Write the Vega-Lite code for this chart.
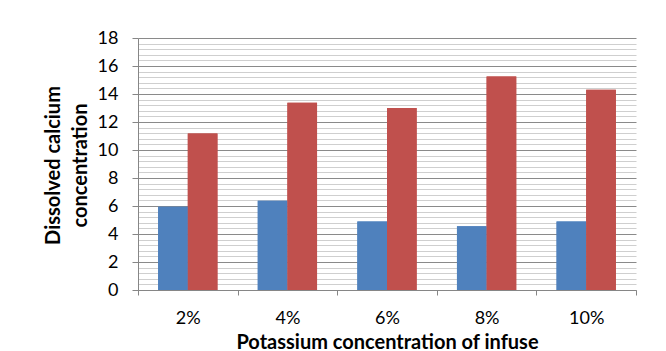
{
  "$schema": "https://vega.github.io/schema/vega-lite/v6.json",
  "width": 498,
  "height": 252,
  "autosize": "none",
  "padding": {"left": 138, "top": 38, "right": 30, "bottom": 61},
  "background": "white",
  "config": {
    "view": {"stroke": null},
    "font": "Lato",
    "axis": {"labelFont": "Lato", "titleFont": "Lato"},
    "axisX": {"title": "Potassium concentration of infuse", "labelAngle": 0, "labelFontSize": 18, "labelColor": "#000000",
              "labelPadding": 14, "tickBand": "extent", "tickSize": 5, "tickColor": "#868686",
              "domainColor": "#868686", "grid": false,
              "titleFontSize": 20, "titleFontWeight": "bold", "titleColor": "#000000",
              "titleX": 249, "titleY": 58, "titleAnchor": "middle", "titleAlign": "center", "titleBaseline": "alphabetic"}
  },
  "data": {
    "values": [
      {"potassium": "2%", "series": "Series1", "calcium": 5.95},
      {"potassium": "2%", "series": "Series2", "calcium": 11.17},
      {"potassium": "4%", "series": "Series1", "calcium": 6.37},
      {"potassium": "4%", "series": "Series2", "calcium": 13.38},
      {"potassium": "6%", "series": "Series1", "calcium": 4.9},
      {"potassium": "6%", "series": "Series2", "calcium": 13.0},
      {"potassium": "8%", "series": "Series1", "calcium": 4.55},
      {"potassium": "8%", "series": "Series2", "calcium": 15.25},
      {"potassium": "10%", "series": "Series1", "calcium": 4.9},
      {"potassium": "10%", "series": "Series2", "calcium": 14.3}
    ]
  },
  "resolve": {"axis": {"y": "independent"}, "scale": {"y": "shared"}},
  "layer": [
    {
      "mark": {"type": "bar"},
      "encoding": {
        "x": {"field": "potassium", "type": "nominal", "sort": ["2%", "4%", "6%", "8%", "10%"],
              "scale": {"paddingInner": 0, "paddingOuter": 0}, "title": "Potassium concentration of infuse"},
        "xOffset": {"field": "series", "type": "nominal", "scale": {"paddingInner": 0, "paddingOuter": 0.68}},
        "y": {"field": "calcium", "type": "quantitative", "scale": {"domain": [0, 18], "nice": false},
              "axis": {"orient": "right", "values": [0.4,0.8,1.2,1.6,2.4,2.8,3.2,3.6,4.4,4.8,5.2,5.6,6.4,6.8,7.2,7.6,8.4,8.8,9.2,9.6,10.4,10.8,11.2,11.6,12.4,12.8,13.2,13.6,14.4,14.8,15.2,15.6,16.4,16.8,17.2,17.6],
                       "grid": true, "gridColor": "#cfcfcf", "gridWidth": 1, "gridOpacity": 1,
                       "labels": false, "ticks": false, "domain": false, "title": null}},
        "color": {"field": "series", "type": "nominal", "scale": {"range": ["#4F81BD", "#C0504D"]}, "legend": null}
      }
    },
    {
      "mark": {"type": "bar"},
      "encoding": {
        "x": {"field": "potassium", "type": "nominal", "sort": ["2%", "4%", "6%", "8%", "10%"],
              "scale": {"paddingInner": 0, "paddingOuter": 0}, "title": "Potassium concentration of infuse"},
        "xOffset": {"field": "series", "type": "nominal", "scale": {"paddingInner": 0, "paddingOuter": 0.68}},
        "y": {"field": "calcium", "type": "quantitative", "scale": {"domain": [0, 18], "nice": false},
              "axis": {"orient": "left", "values": [0, 2, 4, 6, 8, 10, 12, 14, 16, 18],
                       "grid": true, "gridColor": "#8a8a8a", "gridWidth": 1, "gridOpacity": 1,
                       "labelFontSize": 18, "labelColor": "#000000", "labelPadding": 14,
                       "tickSize": 6, "tickColor": "#868686", "domainColor": "#868686",
                       "title": ["Dissolved calcium", "concentration"], "titleFontSize": 20, "titleFontWeight": "bold",
                       "titleColor": "#000000", "titleLineHeight": 27, "titleX": -79, "titleY": 127,
                       "titleAngle": -90, "titleAlign": "center", "titleBaseline": "alphabetic"}},
        "color": {"field": "series", "type": "nominal", "scale": {"range": ["#4F81BD", "#C0504D"]}, "legend": null}
      }
    }
  ]
}
